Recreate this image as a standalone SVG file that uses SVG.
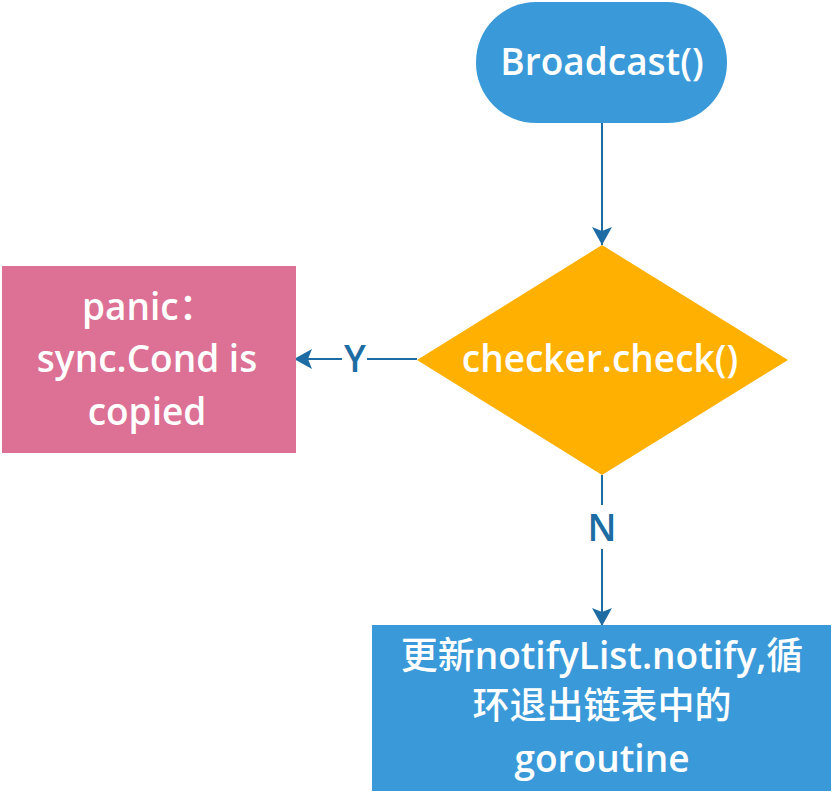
<svg xmlns="http://www.w3.org/2000/svg" width="834" height="794" viewBox="0 0 834 794">
<style>
.t{font-family:"Open Sans","Noto Sans CJK SC",sans-serif;font-size:37px;font-weight:600;fill:#ffffff;text-anchor:middle}
.cjk{font-family:"Noto Sans CJK SC",sans-serif;font-weight:500}
.lbl{font-family:"Open Sans",sans-serif;font-size:37px;font-weight:600;fill:#1d6ca3;text-anchor:middle}
.c{stroke:#1d6ca3;stroke-width:2;fill:none}
</style>
<defs>
<marker id="ah" markerWidth="20" markerHeight="22" viewBox="0 0 20 22" refX="19" refY="11" orient="auto" markerUnits="userSpaceOnUse">
<path d="M1,1 L19,11 L1,21 L5,11 Z" fill="#1d6ca3"/>
</marker>
</defs>
<rect width="834" height="794" fill="#ffffff"/>
<g id="connectors">
<line class="c" x1="602" y1="123" x2="602" y2="245" marker-end="url(#ah)"/>
<line class="c" x1="417" y1="359" x2="367" y2="359"/>
<line class="c" x1="342" y1="359" x2="294" y2="359" marker-end="url(#ah)"/>
<text class="lbl" x="355" y="372">Y</text>
<line class="c" x1="602" y1="475" x2="602" y2="505"/>
<line class="c" x1="602" y1="549" x2="602" y2="626" marker-end="url(#ah)"/>
<text class="lbl" x="602" y="541">N</text>
</g>
<g id="broadcast">
<rect x="476" y="2" width="251" height="121" rx="60" ry="60" fill="#3a9ad9"/>
<text class="t" x="602" y="75">Broadcast()</text>
</g>
<g id="check">
<polygon points="602,245 788,360 602,475 417,360" fill="#ffb000"/>
<text class="t" x="600" y="372">checker.check()</text>
</g>
<g id="panic">
<rect x="2" y="266" width="294" height="187" fill="#dc7095"/>
<text class="t" x="82" y="320" style="text-anchor:start">panic<tspan class="cjk">：</tspan></text>
<text class="t" x="147" y="372">sync.Cond is</text>
<text class="t" x="147" y="425">copied</text>
</g>
<g id="update">
<rect x="372" y="625" width="459" height="166" fill="#3a9ad9"/>
<text class="t" x="602" y="669"><tspan class="cjk">更新</tspan>notifyList.notify,<tspan class="cjk">循</tspan></text>
<text class="t cjk" x="602" y="719">环退出链表中的</text>
<text class="t" x="602" y="772">goroutine</text>
</g>
</svg>
